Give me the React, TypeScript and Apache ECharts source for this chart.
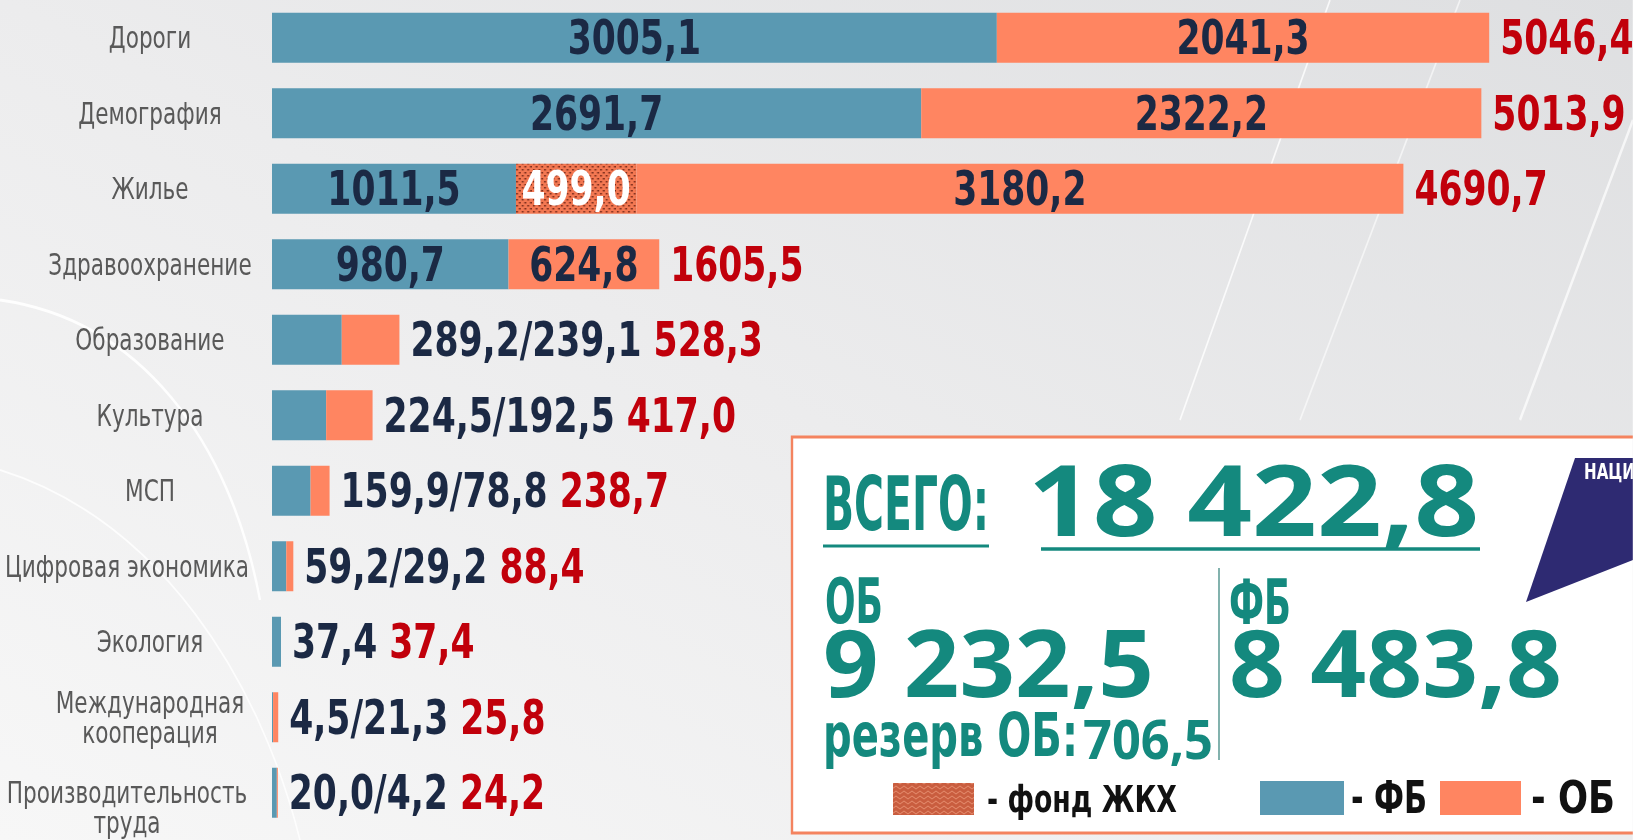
import React, { useEffect, useRef } from 'react';
import * as echarts from 'echarts';

// ---------- data ----------
const categories = [
  'Дороги',
  'Демография',
  'Жилье',
  'Здравоохранение',
  'Образование',
  'Культура',
  'МСП',
  'Цифровая экономика',
  'Экология',
  'Международная\nкооперация',
  'Производительность\nтруда',
];
const fbValues = [3005.1, 2691.7, 1011.5, 980.7, 289.2, 224.5, 159.9, 59.2, 37.4, 4.5, 20.0];
const zhkhValues = [0, 0, 499.0, 0, 0, 0, 0, 0, 0, 0, 0];
const obValues = [2041.3, 2322.2, 3180.2, 624.8, 239.1, 192.5, 78.8, 29.2, 0, 21.3, 4.2];
const totalValues = [5046.4, 5013.9, 4690.7, 1605.5, 528.3, 417.0, 238.7, 88.4, 37.4, 25.8, 24.2];

const summaryTitle = 'ВСЕГО:';
const summaryTotal = '18 422,8';
const obTitle = 'ОБ';
const obTotal = '9 232,5';
const fbTitle = 'ФБ';
const fbTotal = '8 483,8';
const reserveTitle = 'резерв ОБ:';
const reserveValue = '706,5';
const legendNames = ['фонд ЖКХ', 'ФБ', 'ОБ'];
const logoText = 'НАЦИОНАЛЬНЫЕ ПРОЕКТЫ';

// ---------- layout / style ----------
const PAGE_W = 1633;
const PAGE_H = 840;
const K = 0.8; // horizontal condensing of the whole chart (condensed typography)
const px = (v: number) => v / K; // page x -> chart x

const NARROW = '"DejaVu Sans Condensed", "Liberation Sans Narrow", "Liberation Sans", sans-serif';
const WIDE = '"Open Sans", "Noto Sans", Roboto, sans-serif';
const C = {
  blue: '#5a99b2',
  orange: '#ff8561',
  navy: '#1b2944',
  red: '#c1000b',
  gray: '#595959',
  teal: '#14897e',
  logo: '#2e2a72',
  border: '#f4835f',
};

const fmt = (v: number) => v.toFixed(1).replace('.', ',');

function measure(text: string, font: string): number {
  const c = document.createElement('canvas');
  const ctx = c.getContext('2d')!;
  ctx.font = font;
  return ctx.measureText(text).width || 1;
}

function makeDots(): HTMLCanvasElement {
  const c = document.createElement('canvas');
  c.width = 7;
  c.height = 6;
  const ctx = c.getContext('2d')!;
  ctx.fillStyle = '#f37852';
  ctx.fillRect(0, 0, 7, 6);
  ctx.fillStyle = '#7d2e1d';
  ctx.fillRect(1, 1, 2.5, 1.5);
  ctx.fillRect(4.5, 4, 2.5, 1.5);
  return c;
}

function makeHerringbone(): HTMLCanvasElement {
  const c = document.createElement('canvas');
  c.width = 10;
  c.height = 5;
  const ctx = c.getContext('2d')!;
  ctx.fillStyle = '#c95d3f';
  ctx.fillRect(0, 0, 10, 5);
  ctx.strokeStyle = '#e89274';
  ctx.lineWidth = 1;
  ctx.beginPath();
  ctx.moveTo(0, 1);
  ctx.lineTo(5, 4);
  ctx.lineTo(10, 1);
  ctx.stroke();
  return c;
}

// text fitted to a target page width (left edge x, cap centre yMid, page coords)
function fitText(
  text: string,
  x: number,
  yMid: number,
  width: number,
  size: number,
  family: string,
  color: string,
  weight = 'bold'
) {
  const font = `${weight} ${size}px ${family}`;
  const w = measure(text, font);
  return {
    type: 'text',
    x: px(x),
    y: yMid,
    scaleX: px(width) / w,
    style: {
      text,
      x: 0,
      y: 0,
      font,
      fill: color,
      textAlign: 'left',
      textVerticalAlign: 'middle',
    },
  };
}

function buildOption() {
  const dots = makeDots();
  const herring = makeHerringbone();

  const valueFont = { fontFamily: NARROW, fontWeight: 'bold' as const, fontSize: 48 };

  const insideLabel = (vals: number[], color: string) => ({
    show: true,
    position: 'inside',
    color,
    textBorderWidth: 0,
    ...valueFont,
    formatter: (p: any) =>
      totalValues[p.dataIndex] >= 1000 && vals[p.dataIndex] > 0 ? fmt(vals[p.dataIndex]) : '',
  });

  const catStyle = { fontFamily: NARROW, fontSize: 30, color: C.gray, lineHeight: 30, align: 'center' };

  const graphics: any[] = [
    // background
    {
      type: 'rect',
      z: -10,
      shape: { x: 0, y: 0, width: px(PAGE_W), height: PAGE_H },
      style: {
        fill: new echarts.graphic.LinearGradient(0, 1, 1, 0, [
          { offset: 0, color: '#f7f7f7' },
          { offset: 0.5, color: '#ececed' },
          { offset: 1, color: '#dedfe1' },
        ]),
      },
    },
    {
      type: 'bezierCurve',
      z: -9,
      shape: {
        x1: 0, y1: 300, x2: px(260), y2: 600,
        cpx1: px(140), cpy1: 320, cpx2: px(230), cpy2: 440,
      },
      style: { stroke: 'rgba(255,255,255,0.9)', lineWidth: 3, fill: null },
    },
    {
      type: 'bezierCurve',
      z: -9,
      shape: {
        x1: 0, y1: 470, x2: px(300), y2: 840,
        cpx1: px(160), cpy1: 520, cpx2: px(260), cpy2: 680,
      },
      style: { stroke: 'rgba(255,255,255,0.8)', lineWidth: 2, fill: null },
    },
    {
      type: 'line',
      z: -9,
      shape: { x1: px(1180), y1: 420, x2: px(1330), y2: 0 },
      style: { stroke: 'rgba(255,255,255,0.8)', lineWidth: 2 },
    },
    {
      type: 'line',
      z: -9,
      shape: { x1: px(1300), y1: 420, x2: px(1460), y2: 0 },
      style: { stroke: 'rgba(255,255,255,0.6)', lineWidth: 2 },
    },
    {
      type: 'line',
      z: -9,
      shape: { x1: px(1520), y1: 420, x2: px(1633), y2: 120 },
      style: { stroke: 'rgba(255,255,255,0.7)', lineWidth: 3 },
    },
    // summary box
    {
      type: 'rect',
      shape: { x: px(792), y: 437, width: px(900), height: 396 },
      style: { fill: '#ffffff', stroke: C.border, lineWidth: 3 },
    },
    fitText(summaryTitle, 823, 504, 166, 74, NARROW, C.teal),
    {
      type: 'line',
      shape: { x1: px(823), y1: 546, x2: px(989), y2: 546 },
      style: { stroke: C.teal, lineWidth: 3 },
    },
    fitText(summaryTotal, 1028, 498, 451, 98, WIDE, C.teal),
    {
      type: 'line',
      shape: { x1: px(1041), y1: 549, x2: px(1480), y2: 549 },
      style: { stroke: C.teal, lineWidth: 3.5 },
    },
    fitText(obTitle, 825, 602, 58, 62, NARROW, C.teal),
    fitText(obTotal, 823, 661, 331, 94, WIDE, C.teal),
    fitText(reserveTitle, 823, 735, 255, 60, NARROW, C.teal),
    fitText(reserveValue, 1083, 738, 130, 54, WIDE, C.teal),
    {
      type: 'line',
      shape: { x1: px(1219), y1: 568, x2: px(1219), y2: 760 },
      style: { stroke: '#2f7f77', lineWidth: 1.5 },
    },
    fitText(fbTitle, 1229, 602, 62, 62, NARROW, C.teal),
    fitText(fbTotal, 1229, 660, 333, 94, WIDE, C.teal),
    // legend
    {
      type: 'rect',
      shape: { x: px(893), y: 783, width: px(81), height: 32 },
      style: { fill: { image: herring, repeat: 'repeat', imageWidth: 10, imageHeight: 5 } as any },
    },
    fitText('- ' + legendNames[0], 987, 799, 190, 38, NARROW, '#111111'),
    {
      type: 'rect',
      shape: { x: px(1260), y: 781, width: px(84), height: 34 },
      style: { fill: C.blue },
    },
    fitText('- ' + legendNames[1], 1351, 798, 76, 44, NARROW, '#111111'),
    {
      type: 'rect',
      shape: { x: px(1440), y: 781, width: px(81), height: 34 },
      style: { fill: C.orange },
    },
    fitText('- ' + legendNames[2], 1531, 798, 84, 44, NARROW, '#111111'),
    // logo
    {
      type: 'polygon',
      shape: {
        points: [
          [px(1575), 458],
          [px(1633), 458],
          [px(1633), 560],
          [px(1526), 602],
        ],
      },
      style: { fill: C.logo },
    },
    {
      type: 'text',
      x: px(1584),
      y: 471,
      style: {
        text: logoText,
        font: `bold 21px ${NARROW}`,
        fill: '#ffffff',
        textAlign: 'left',
        textVerticalAlign: 'middle',
      },
    },
  ];

  const gridLeft = px(272);
  const plotW = px(5400 * 0.2412);

  return {
    animation: false,
    grid: {
      left: gridLeft,
      width: plotW,
      top: 0,
      bottom: 9.5,
      containLabel: false,
      outerBoundsMode: 'none',
    },
    xAxis: { type: 'value', min: 0, max: 5400, show: false },
    yAxis: {
      type: 'category',
      data: categories,
      inverse: true,
      axisLine: { show: false },
      axisTick: { show: false },
      splitLine: { show: false },
      axisLabel: {
        margin: px(14),
        formatter: (v: string) => {
          const lines = v.split('\n');
          const long = lines[0].length > 15;
          const key = long ? 'w' : 'c';
          const body = lines.map((l) => `{${key}|${l}}`).join('\n');
          // a long two-line label keeps its first line level with the bar
          return long && lines.length > 1 ? `{${key}| }\n${body}` : body;
        },
        rich: {
          c: { width: px(216), ...catStyle },
          w: { width: px(262), ...catStyle },
        },
      },
    },
    series: [
      {
        name: 'Итого',
        type: 'bar',
        data: totalValues,
        barWidth: 50,
        barGap: '-100%',
        silent: true,
        z: 1,
        itemStyle: { color: 'rgba(0,0,0,0)' },
        label: {
          show: true,
          position: 'right',
          distance: px(11),
          ...valueFont,
          formatter: (p: any) => {
            const i = p.dataIndex;
            if (totalValues[i] >= 1000) return `{r|${fmt(totalValues[i])}}`;
            const part =
              obValues[i] > 0 ? `${fmt(fbValues[i])}/${fmt(obValues[i])}` : fmt(fbValues[i]);
            return `{n|${part}} {r|${fmt(totalValues[i])}}`;
          },
          rich: {
            n: { color: C.navy, ...valueFont },
            r: { color: C.red, ...valueFont },
          },
        },
      },
      {
        name: legendNames[1],
        type: 'bar',
        stack: 'a',
        data: fbValues,
        barWidth: 50,
        barGap: '-100%',
        itemStyle: { color: C.blue },
        label: insideLabel(fbValues, C.navy),
      },
      {
        name: legendNames[0],
        type: 'bar',
        stack: 'a',
        data: zhkhValues,
        barWidth: 50,
        barGap: '-100%',
        itemStyle: { color: { image: dots, repeat: 'repeat', imageWidth: 7, imageHeight: 6 } as any },
        label: insideLabel(zhkhValues, '#ffffff'),
      },
      {
        name: legendNames[2],
        type: 'bar',
        stack: 'a',
        data: obValues,
        barWidth: 50,
        barGap: '-100%',
        itemStyle: { color: C.orange },
        label: insideLabel(obValues, C.navy),
      },
    ],
    graphic: { elements: graphics },
  };
}

export default function App() {
  const ref = useRef<HTMLDivElement>(null);
  useEffect(() => {
    const chart = echarts.init(ref.current!, null, { renderer: 'svg' });
    chart.setOption(buildOption() as any);
    return () => chart.dispose();
  }, []);
  return (
    <div
      style={{
        position: 'fixed',
        left: 0,
        top: 0,
        width: PAGE_W,
        height: PAGE_H,
        overflow: 'hidden',
      }}
    >
      <div
        ref={ref}
        style={{
          width: px(PAGE_W),
          height: PAGE_H,
          transform: `scaleX(${K})`,
          transformOrigin: '0 0',
        }}
      />
    </div>
  );
}
